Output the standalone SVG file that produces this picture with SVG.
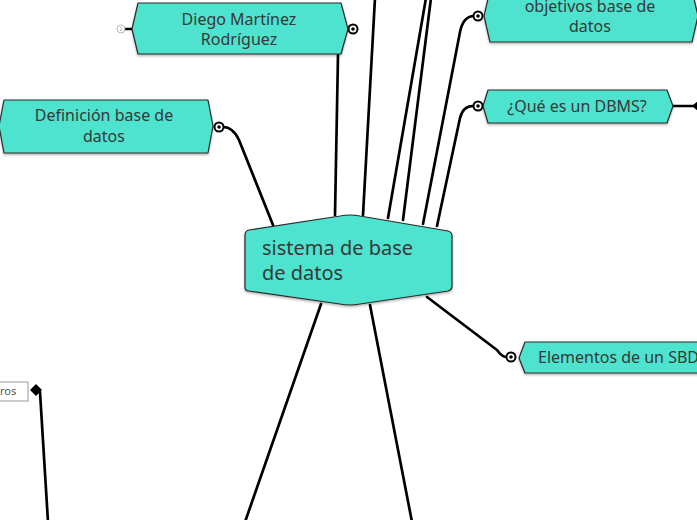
<svg xmlns="http://www.w3.org/2000/svg" width="697" height="520" viewBox="0 0 697 520">
<defs>
<style>
.node{fill:#4ee3cf;stroke:#2a2a2a;stroke-width:1.2;stroke-linejoin:round;filter:url(#sh)}
.lbl{font-family:"Noto Sans","Lato",sans-serif;font-size:16px;fill:#383838}
.big{font-family:"Noto Sans","Lato",sans-serif;font-size:20px;fill:#383838}
.con{fill:none;stroke:#000;stroke-width:2.7;stroke-linecap:round;stroke-linejoin:round}
.tgt{fill:#fff;stroke:#000;stroke-width:2}
</style>
<filter id="sh" x="-10%" y="-20%" width="120%" height="150%">
<feDropShadow dx="0" dy="1.5" stdDeviation="1" flood-color="#000" flood-opacity="0.3"/>
</filter>
</defs>
<rect width="697" height="520" fill="#fff"/>
<g id="connectors">
<path class="con" d="M273,225 L239,140 Q233,127 223,127"/>
<path class="con" d="M335,215 L338,55"/>
<path class="con" d="M363,215 L375,-2"/>
<path class="con" d="M388,218 L426,-2"/>
<path class="con" d="M403,220 L431,-2"/>
<path class="con" d="M423,224 L460,32 Q463,17 473,16"/>
<path class="con" d="M437,226 L460,118 Q463,106 473,106"/>
<path class="con" d="M427,297 L497,350 Q502,357 506,357"/>
<path class="con" d="M321,304 L245,522"/>
<path class="con" d="M370,305 L412,522"/>
<path class="con" d="M673,106 L694,106"/>
<path class="con" d="M125,29 L132,29"/>
<path class="con" d="M40,392 L48,522"/>
</g>
<g id="center">
<path class="node" d="M249,230 Q245,231 245,235 L245,287 Q245,291 249,291 L340,304 Q350,306 360,304 L448,291 Q452,290 452,286 L452,236 Q452,232 448,231 L360,216 Q350,214 340,216 Z"/>
<text class="big" x="262" y="255">sistema de base</text>
<text class="big" x="262" y="280">de datos</text>
</g>
<g id="node-diego">
<polygon class="node" points="132,29 138,3 341,3 348,29 341,54 138,54"/>
<text class="lbl" x="239" y="25" text-anchor="middle">Diego Martínez</text>
<text class="lbl" x="239" y="45" text-anchor="middle">Rodríguez</text>
<circle cx="121" cy="29" r="4" fill="#fff" stroke="#aaa" stroke-width="0.8"/>
<text x="121" y="31" text-anchor="middle" font-family="Noto Sans, sans-serif" font-size="5" fill="#999">2</text>
<circle class="tgt" cx="353" cy="29" r="4.5"/>
<circle cx="353" cy="29" r="1.8" fill="#000"/>
</g>
<g id="node-definicion">
<polygon class="node" points="-1,126 4,100 208,100 213,126 208,153 4,153"/>
<text class="lbl" x="104" y="121" text-anchor="middle">Definición base de</text>
<text class="lbl" x="104" y="142" text-anchor="middle">datos</text>
<circle class="tgt" cx="219" cy="127" r="4.5"/>
<circle cx="219" cy="127" r="1.8" fill="#000"/>
</g>
<g id="node-objetivos">
<polygon class="node" points="484,16 490,-10 692,-10 698,16 692,42 490,42"/>
<text class="lbl" x="590" y="12" text-anchor="middle">objetivos base de</text>
<text class="lbl" x="590" y="32" text-anchor="middle">datos</text>
<circle class="tgt" cx="478" cy="16" r="4.5"/>
<circle cx="478" cy="16" r="1.8" fill="#000"/>
</g>
<g id="node-dbms">
<polygon class="node" points="483,106 488,90 667,90 673,106 667,123 488,123"/>
<text class="lbl" x="577" y="112" text-anchor="middle">¿Qué es un DBMS?</text>
<circle class="tgt" cx="478" cy="106" r="4.5"/>
<circle cx="478" cy="106" r="1.8" fill="#000"/>
<polygon points="692,106 699,100 706,106 699,112" fill="#000"/>
</g>
<g id="node-elementos">
<polygon class="node" points="519,358 525,342 720,342 720,373 525,373"/>
<text class="lbl" x="538" y="363">Elementos de un SBD</text>
<circle class="tgt" cx="511" cy="357" r="4.5"/>
<circle cx="511" cy="357" r="1.8" fill="#000"/>
</g>
<g id="node-ros">
<rect x="-10" y="382" width="38" height="19" fill="#fff" stroke="#999" stroke-width="1"/>
<text x="0" y="395" font-family="Noto Sans, sans-serif" font-size="11" fill="#555">ros</text>
<polygon points="30,390 36,384 42,390 36,396" fill="#000"/>
</g>
</svg>
